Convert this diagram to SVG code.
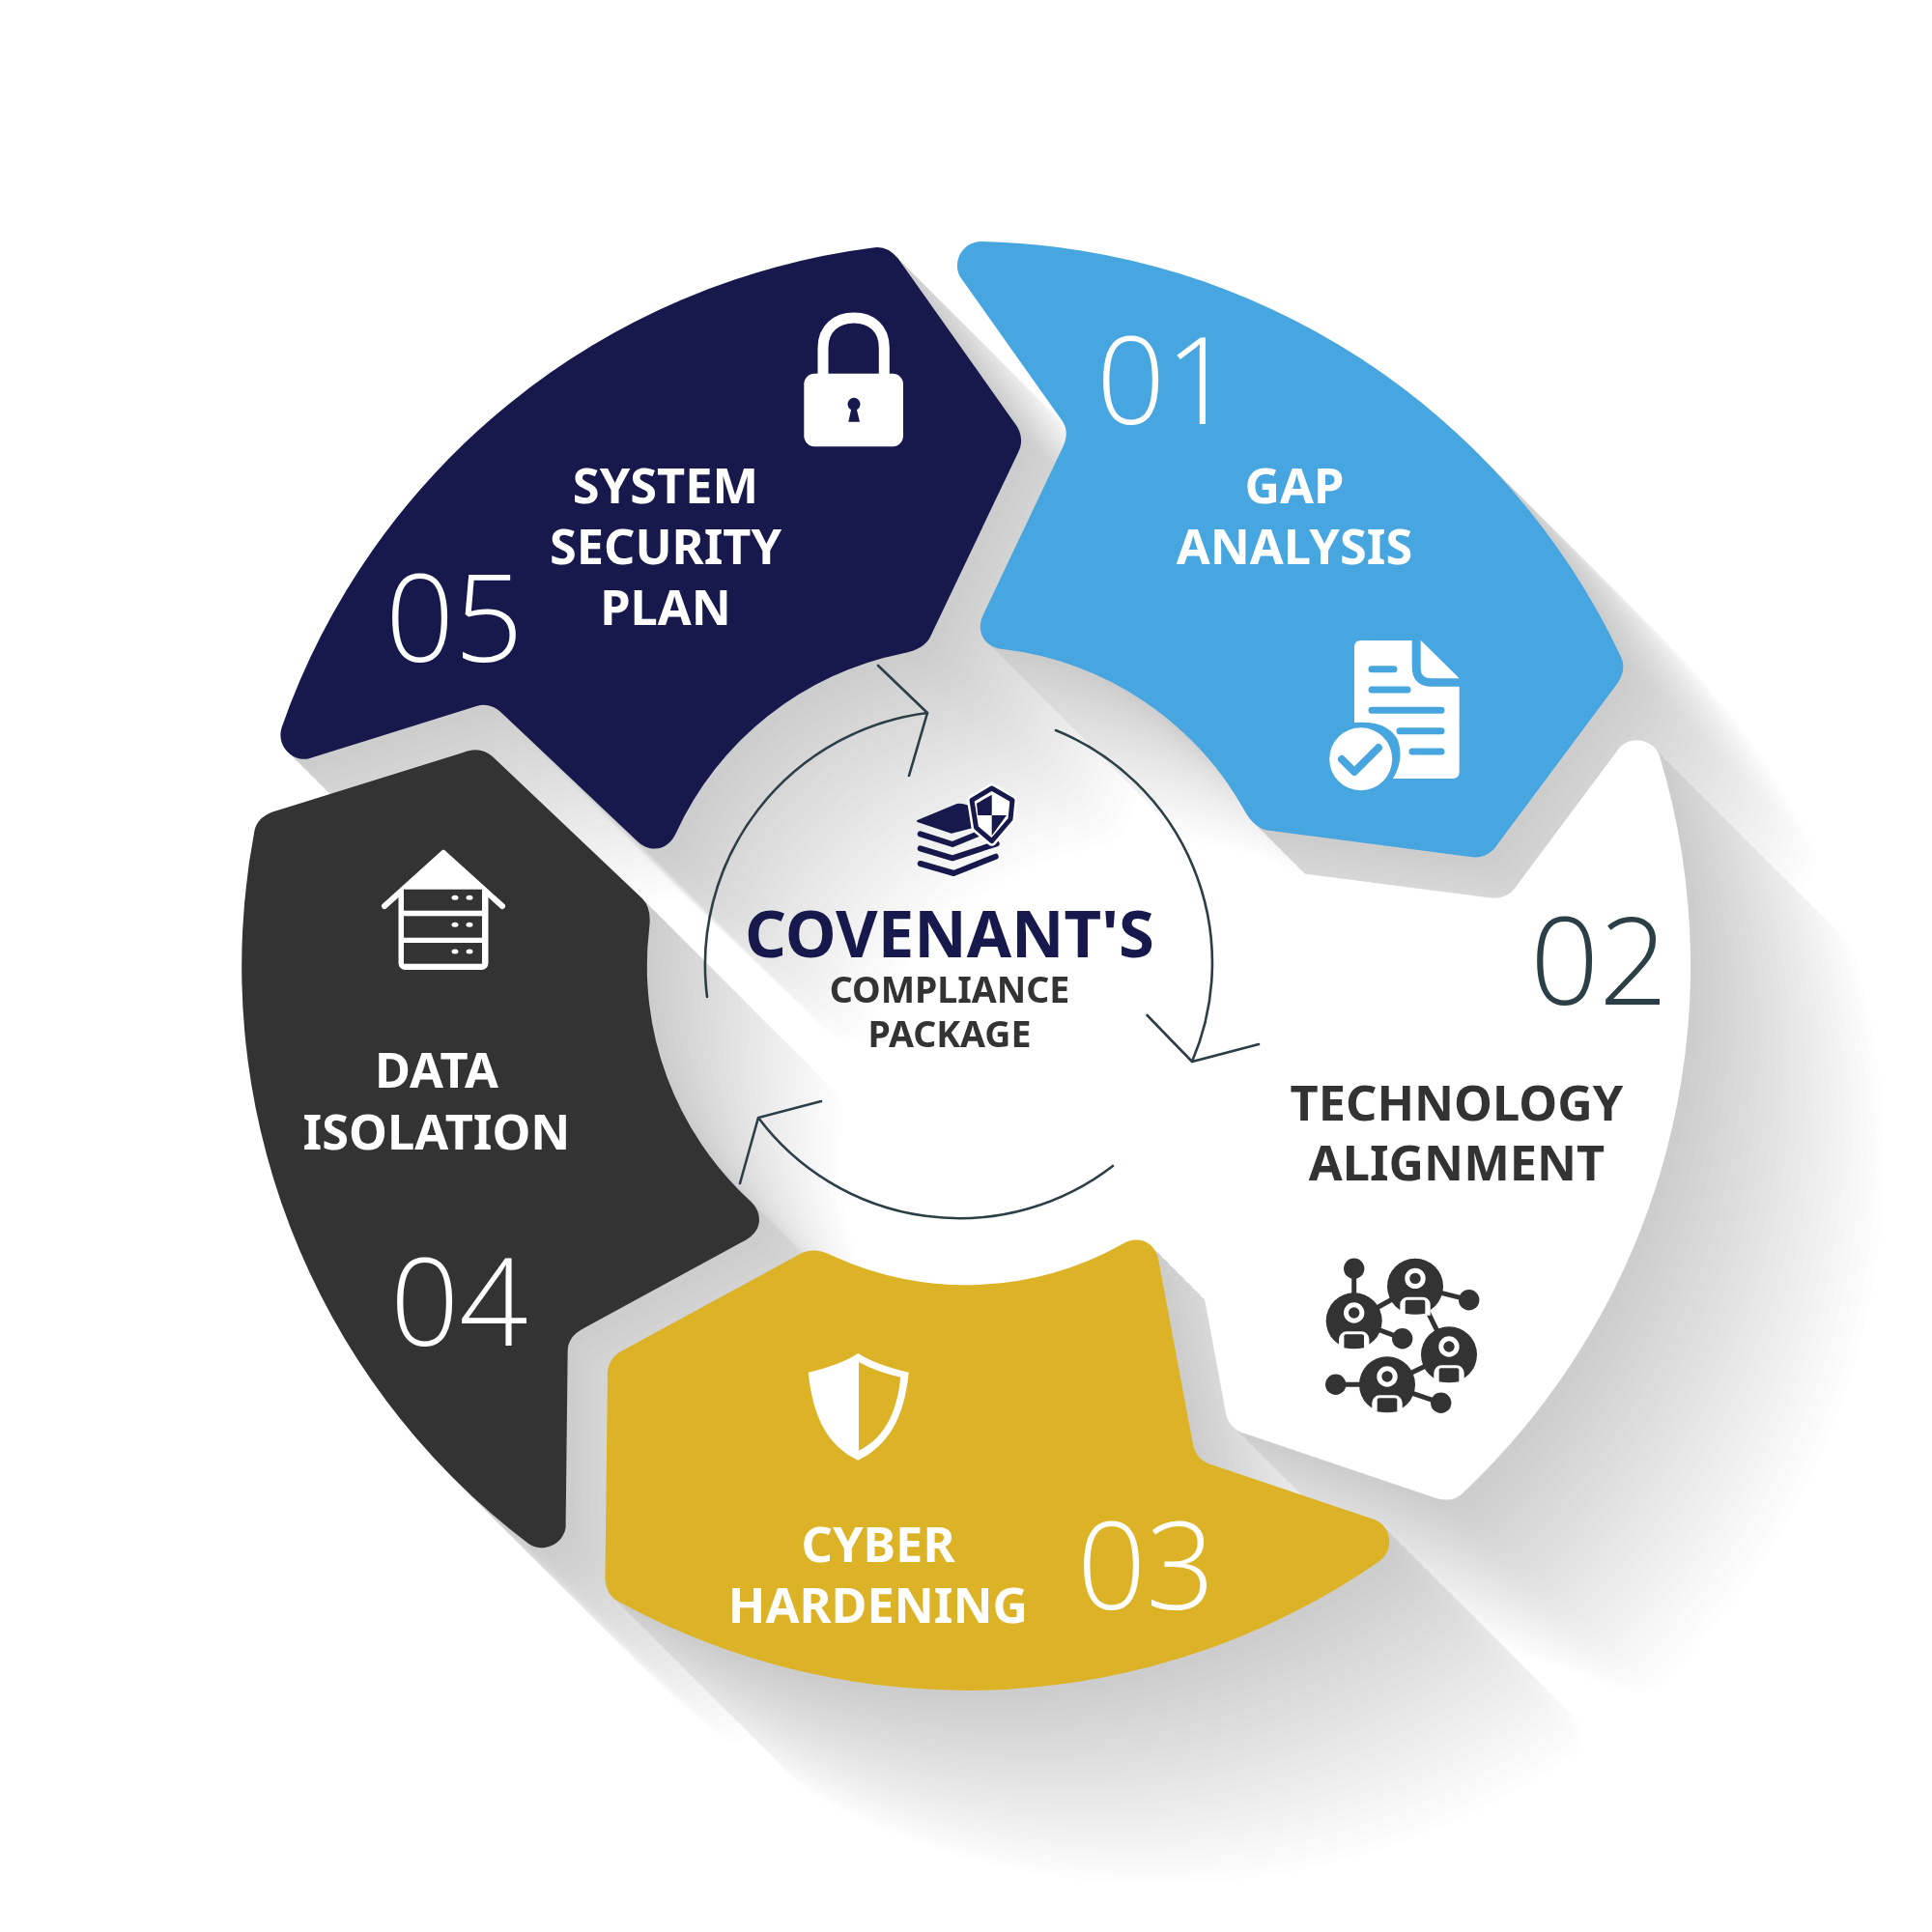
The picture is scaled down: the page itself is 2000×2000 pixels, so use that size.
<svg xmlns="http://www.w3.org/2000/svg" width="2000" height="2000" viewBox="0 0 2000 2000">
<style>
.lbl{font-family:"Noto Sans","Open Sans","Liberation Sans",sans-serif;font-weight:700;font-size:50.500px;text-anchor:middle}
.ctr{font-family:"Noto Sans","Open Sans","Liberation Sans",sans-serif;font-weight:700;text-anchor:middle}
.num{font-family:"Open Sans","Noto Sans","Liberation Sans",sans-serif;font-weight:300;font-size:125px}
.w{fill:#fff}.d{fill:#333}
.sh{mix-blend-mode:darken}
.t8{transform:translate(8px,8px);fill:#cdcdcd}.t16{transform:translate(16px,16px);fill:#cfcfcf}.t24{transform:translate(24px,24px);fill:#d1d1d1}.t32{transform:translate(32px,32px);fill:#d3d3d3}.t40{transform:translate(40px,40px);fill:#d5d5d5}
.t48{transform:translate(48px,48px);fill:#d7d7d7}.t56{transform:translate(56px,56px);fill:#d9d9d9}.t64{transform:translate(64px,64px);fill:#dbdbdb}.t72{transform:translate(72px,72px);fill:#dddddd}.t80{transform:translate(80px,80px);fill:#dfdfdf}
.t88{transform:translate(88px,88px);fill:#e1e1e1}.t96{transform:translate(96px,96px);fill:#e3e3e3}.t104{transform:translate(104px,104px);fill:#e5e5e5}.t112{transform:translate(112px,112px);fill:#e7e7e7}.t120{transform:translate(120px,120px);fill:#e9e9e9}
.t128{transform:translate(128px,128px);fill:#ebebeb}.t136{transform:translate(136px,136px);fill:#ededed}.t144{transform:translate(144px,144px);fill:#efefef}.t152{transform:translate(152px,152px);fill:#f1f1f1}.t160{transform:translate(160px,160px);fill:#f3f3f3}
.t168{transform:translate(168px,168px);fill:#f5f5f5}.t176{transform:translate(176px,176px);fill:#f7f7f7}.t184{transform:translate(184px,184px);fill:#f9f9f9}.t192{transform:translate(192px,192px);fill:#fbfbfb}.t200{transform:translate(200px,200px);fill:#fdfdfd}
.arrow{fill:none;stroke:#2c3e46;stroke-width:2.6;stroke-linecap:round;stroke-linejoin:miter}
.bl{fill:none;stroke:#47a5df;stroke-width:7;stroke-linecap:round;stroke-linejoin:round}
.lk{stroke:#333;stroke-width:5;fill:none}
.st{fill:none;stroke:#17184b;stroke-width:6;stroke-linecap:round;stroke-linejoin:round}
</style>
<defs>
<path id="seg" d="M1016 250A750 750 0 0 1 1678 680Q1684 692 1675 706.500L1551 873C1544 884 1534 889 1522 887L1312 859.500Q1298 857 1288 838.500A330 330 0 0 0 1038 672C1020 670 1009 655 1018 636L1099.900 463.500Q1108 447 1099.100 434.900L993.500 286A25 25 0 0 1 1016 250Z"/>
<g id="p1"><use href="#seg"/></g>
<g id="p2" transform="rotate(72 1000 1000)"><use href="#seg"/></g>
<g id="p3" transform="rotate(144 1000 1000)"><use href="#seg"/></g>
<g id="p4" transform="rotate(216 1000 1000)"><use href="#seg"/></g>
<g id="p5" transform="rotate(288 1000 1000)"><use href="#seg"/></g>
<g id="person">
<circle r="29" fill="#333"/>
<circle cy="-8.300" r="8.200" fill="#333" stroke="#fff" stroke-width="5"/>
<path d="M-15.700 30V19a8 8 0 0 1 8-8H7.700a8 8 0 0 1 8 8V30Z" fill="#fff"/>
<path d="M-10.300 16q0-2 2-2H8.300q2 0 2 2V28Q0 30-10.300 28Z" fill="#333"/>
</g>
</defs>
<rect width="2000" height="2000" fill="#fff"/>
<g id="shadows">
<g class="sh" id="shadow-5"><use href="#p5" class="t200"/><use href="#p5" class="t192"/><use href="#p5" class="t184"/><use href="#p5" class="t176"/><use href="#p5" class="t168"/><use href="#p5" class="t160"/><use href="#p5" class="t152"/><use href="#p5" class="t144"/><use href="#p5" class="t136"/><use href="#p5" class="t128"/><use href="#p5" class="t120"/><use href="#p5" class="t112"/><use href="#p5" class="t104"/><use href="#p5" class="t96"/><use href="#p5" class="t88"/><use href="#p5" class="t80"/><use href="#p5" class="t72"/><use href="#p5" class="t64"/><use href="#p5" class="t56"/><use href="#p5" class="t48"/><use href="#p5" class="t40"/><use href="#p5" class="t32"/><use href="#p5" class="t24"/><use href="#p5" class="t16"/><use href="#p5" class="t8"/></g>
<g class="sh" id="shadow-4"><use href="#p4" class="t200"/><use href="#p4" class="t192"/><use href="#p4" class="t184"/><use href="#p4" class="t176"/><use href="#p4" class="t168"/><use href="#p4" class="t160"/><use href="#p4" class="t152"/><use href="#p4" class="t144"/><use href="#p4" class="t136"/><use href="#p4" class="t128"/><use href="#p4" class="t120"/><use href="#p4" class="t112"/><use href="#p4" class="t104"/><use href="#p4" class="t96"/><use href="#p4" class="t88"/><use href="#p4" class="t80"/><use href="#p4" class="t72"/><use href="#p4" class="t64"/><use href="#p4" class="t56"/><use href="#p4" class="t48"/><use href="#p4" class="t40"/><use href="#p4" class="t32"/><use href="#p4" class="t24"/><use href="#p4" class="t16"/><use href="#p4" class="t8"/></g>
<g class="sh" id="shadow-3"><use href="#p3" class="t200"/><use href="#p3" class="t192"/><use href="#p3" class="t184"/><use href="#p3" class="t176"/><use href="#p3" class="t168"/><use href="#p3" class="t160"/><use href="#p3" class="t152"/><use href="#p3" class="t144"/><use href="#p3" class="t136"/><use href="#p3" class="t128"/><use href="#p3" class="t120"/><use href="#p3" class="t112"/><use href="#p3" class="t104"/><use href="#p3" class="t96"/><use href="#p3" class="t88"/><use href="#p3" class="t80"/><use href="#p3" class="t72"/><use href="#p3" class="t64"/><use href="#p3" class="t56"/><use href="#p3" class="t48"/><use href="#p3" class="t40"/><use href="#p3" class="t32"/><use href="#p3" class="t24"/><use href="#p3" class="t16"/><use href="#p3" class="t8"/></g>
<g class="sh" id="shadow-2"><use href="#p2" class="t200"/><use href="#p2" class="t192"/><use href="#p2" class="t184"/><use href="#p2" class="t176"/><use href="#p2" class="t168"/><use href="#p2" class="t160"/><use href="#p2" class="t152"/><use href="#p2" class="t144"/><use href="#p2" class="t136"/><use href="#p2" class="t128"/><use href="#p2" class="t120"/><use href="#p2" class="t112"/><use href="#p2" class="t104"/><use href="#p2" class="t96"/><use href="#p2" class="t88"/><use href="#p2" class="t80"/><use href="#p2" class="t72"/><use href="#p2" class="t64"/><use href="#p2" class="t56"/><use href="#p2" class="t48"/><use href="#p2" class="t40"/><use href="#p2" class="t32"/><use href="#p2" class="t24"/><use href="#p2" class="t16"/><use href="#p2" class="t8"/></g>
<g class="sh" id="shadow-1"><use href="#p1" class="t200"/><use href="#p1" class="t192"/><use href="#p1" class="t184"/><use href="#p1" class="t176"/><use href="#p1" class="t168"/><use href="#p1" class="t160"/><use href="#p1" class="t152"/><use href="#p1" class="t144"/><use href="#p1" class="t136"/><use href="#p1" class="t128"/><use href="#p1" class="t120"/><use href="#p1" class="t112"/><use href="#p1" class="t104"/><use href="#p1" class="t96"/><use href="#p1" class="t88"/><use href="#p1" class="t80"/><use href="#p1" class="t72"/><use href="#p1" class="t64"/><use href="#p1" class="t56"/><use href="#p1" class="t48"/><use href="#p1" class="t40"/><use href="#p1" class="t32"/><use href="#p1" class="t24"/><use href="#p1" class="t16"/><use href="#p1" class="t8"/></g>
</g>
<g id="node-01">
<use href="#p1" fill="#47a5df"/>
<text class="num w" x="1135" y="439">01</text>
<text class="lbl w" x="1340" y="521">GAP</text>
<text class="lbl w" x="1340" y="584">ANALYSIS</text>
<path class="w" d="M1402 670q0-7 7-7h52.700V690q0 20.700 20.700 20.700H1510.700V799q0 7-7 7H1442q12-20 5-40Q1436 745 1402 748Z"/>
<path class="w" d="M1470.700 662.700L1510.700 702.300H1482q-11 0-11.300-10Z"/>
<path class="bl" d="M1420 692.700H1443M1420 714H1457M1420 735.300H1492M1449 756.700H1492M1462 778H1492"/>
<circle class="w" cx="1408.700" cy="785.700" r="32.500"/>
<path class="bl" d="M1389 786L1402 799L1427 774" style="stroke-width:8"/>
</g>
<g id="node-02">
<use href="#p2" fill="#fff"/>
<text class="num" x="1584" y="1040" fill="#2c3e46">02</text>
<text class="lbl d" x="1508" y="1160">TECHNOLOGY</text>
<text class="lbl d" x="1508" y="1222">ALIGNMENT</text>
<path class="lk" d="M1401.700 1313.300V1367M1401.700 1367L1465 1331.700L1520.700 1345.700M1401.700 1367L1451.700 1385.700M1465 1331.700L1500 1402.300L1436 1433.300H1382.700M1436 1433.300L1491.700 1452.300"/>
<circle class="d" cx="1401.700" cy="1313.300" r="10.700"/><circle class="d" cx="1520.700" cy="1345.700" r="10.700"/><circle class="d" cx="1451.700" cy="1385.700" r="10.700"/><circle class="d" cx="1382.700" cy="1433.300" r="10.700"/><circle class="d" cx="1491.700" cy="1452.300" r="10.700"/>
<use href="#person" x="1401.700" y="1367.300"/><use href="#person" x="1465" y="1331.700"/><use href="#person" x="1500" y="1402.300"/><use href="#person" x="1436" y="1433.300"/>
</g>
<g id="node-03">
<use href="#p3" fill="#dcb327"/>
<text class="num w" x="1115" y="1666">03</text>
<text class="lbl w" x="909" y="1617">CYBER</text>
<text class="lbl w" x="909" y="1680">HARDENING</text>
<path class="w" d="M888.300 1401Q870 1413 836.700 1420.700C842 1470 858 1497 888.300 1511.700C918 1497 936 1470 940.700 1420.700Q907 1413 888.300 1401Z"/>
<path d="M889 1410Q907 1420 932.300 1425.700C928 1468 912 1490 889 1501.700Z" fill="#dcb327"/>
</g>
<g id="node-04">
<use href="#p4" fill="#333"/>
<text class="num w" x="404" y="1393">04</text>
<text class="lbl w" x="452" y="1126">DATA</text>
<text class="lbl w" x="452" y="1190">ISOLATION</text>
<path class="w" d="M459 883L505 921H413Z"/>
<path d="M459 883L520 938M459 883L398 938" stroke="#fff" stroke-width="6" stroke-linecap="round" fill="none"/>
<rect class="w" x="415.500" y="923" width="87" height="78" rx="4" stroke="#fff" stroke-width="6"/>
<rect x="418" y="920.700" width="81" height="22" fill="#333"/><rect x="418" y="948.300" width="81" height="22.400" fill="#333"/><rect x="418" y="976" width="81" height="21.700" fill="#333"/>
<ellipse class="w" cx="471" cy="929.300" rx="3.500" ry="2.500"/><ellipse class="w" cx="486" cy="929.300" rx="3.500" ry="2.500"/><ellipse class="w" cx="471" cy="957.300" rx="3.500" ry="2.500"/><ellipse class="w" cx="486" cy="957.300" rx="3.500" ry="2.500"/><ellipse class="w" cx="471" cy="985" rx="3.500" ry="2.500"/><ellipse class="w" cx="486" cy="985" rx="3.500" ry="2.500"/>
</g>
<g id="node-05">
<use href="#p5" fill="#17184b"/>
<text class="num w" x="399" y="685">05</text>
<text class="lbl w" x="689" y="521">SYSTEM</text>
<text class="lbl w" x="689" y="584">SECURITY</text>
<text class="lbl w" x="689" y="647">PLAN</text>
<rect class="w" x="832.300" y="386.700" width="102.700" height="75.600" rx="11"/>
<path d="M852 388V360C852 340 866 329 884 329C902 329 915.300 340 915.300 360V388" fill="none" stroke="#fff" stroke-width="11"/>
<circle cx="884" cy="418.300" r="6.500" fill="#17184b"/>
<path d="M881.500 422H886.500L890 436.700H878.300Z" fill="#17184b"/>
</g>
<g id="center">
<path class="st" d="M952.700 863.300L986 874L1013 863M952.700 878.300L986 888.300L1031.700 873.300M952.700 894L987.300 904L1030.700 886.700"/>
<path d="M950 850L991 833Q994 832 1003 835L1007 856L985 861.700Z" fill="#17184b" stroke="#17184b" stroke-width="2" stroke-linejoin="round"/>
<path d="M1026.700 816L1048 828.300L1046 848L1026.700 870.700L1010.500 856.700L1006 828.300Z" fill="#fff" stroke="#fff" stroke-width="10" stroke-linejoin="round"/>
<path d="M1026.700 816L1048 828.300L1046 848L1026.700 870.700L1010.500 856.700L1006 828.300Z" fill="#fff" stroke="#17184b" stroke-width="5" stroke-linejoin="round"/>
<path d="M1026.700 822.700V844H1012.300L1011 831.700ZM1026.700 844H1042L1026.700 865Z" fill="#17184b"/>
<text class="ctr" x="983" y="991" font-size="67" fill="#17184b">COVENANT'S</text>
<text class="ctr d" x="983" y="1038" font-size="37.500">COMPLIANCE</text>
<text class="ctr d" x="983" y="1084" font-size="37.500">PACKAGE</text>
</g>
<g id="connectors">
<path class="arrow" d="M1093 756A260 260 0 0 1 1234 1099M1187.500 1051L1234 1099L1303 1081"/>
<path class="arrow" d="M1152 1207A260 260 0 0 1 785 1157M850 1140L785 1157L766 1225"/>
<path class="arrow" d="M732 1032A263 263 0 0 1 960 738M909 689L960 738L941 803"/>
</g>
</svg>
